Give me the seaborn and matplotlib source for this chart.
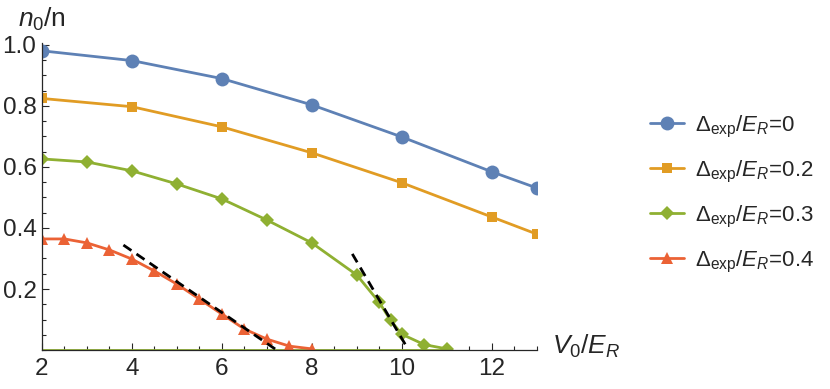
import numpy as np
import pandas as pd
import seaborn as sns
import matplotlib.pyplot as plt
from matplotlib.ticker import MultipleLocator, FixedLocator

# condensate fraction n0/n against lattice depth V0/ER
v_blue = [2, 4, 6, 8, 10, 12, 13]
n_blue = [0.980, 0.948, 0.889, 0.803, 0.698, 0.584, 0.531]

v_orange = [2, 4, 6, 8, 10, 12, 13]
n_orange = [0.824, 0.797, 0.731, 0.646, 0.548, 0.436, 0.380]

v_green = [2, 3, 4, 5, 6, 7, 8, 9, 9.5, 9.75, 10, 10.5, 11]
n_green = [0.626, 0.616, 0.587, 0.544, 0.495, 0.426, 0.351, 0.246, 0.156, 0.098, 0.052, 0.018, 0.004]

v_red = [2, 2.5, 3, 3.5, 4, 4.5, 5, 5.5, 6, 6.5, 7, 7.5, 8]
n_red = [0.364, 0.364, 0.351, 0.328, 0.298, 0.259, 0.216, 0.167, 0.118, 0.069, 0.036, 0.013, 0.004]

# green curve sitting on the axis
v_floor = [2, 11]
n_floor = [0, 0]

# dashed linear fits
fit1_x = [3.81, 7.22]
fit1_y = [0.344, 0.0]
fit2_x = [8.90, 10.10]
fit2_y = [0.315, 0.013]

labels = [r'$\Delta_{\rm exp}/E_R$=0', r'$\Delta_{\rm exp}/E_R$=0.2',
          r'$\Delta_{\rm exp}/E_R$=0.3', r'$\Delta_{\rm exp}/E_R$=0.4']
colors = ['#5E81B5', '#E19C24', '#8FB032', '#EB6235']

sns.set_style('ticks')
plt.rcParams['font.family'] = ['Liberation Sans', 'DejaVu Sans']
plt.rcParams['mathtext.fontset'] = 'custom'
plt.rcParams['mathtext.rm'] = 'Liberation Sans'
plt.rcParams['mathtext.it'] = 'Liberation Sans:italic'

fig = plt.figure(figsize=(8.3, 3.89), dpi=100)
ax = fig.add_axes([0.0506, 0.100, 0.596, 0.789])

sns.lineplot(x=v_floor, y=n_floor, color=colors[2], lw=2.0, ax=ax)

series = [(v_blue, n_blue, 'o', 10), (v_orange, n_orange, 's', 7),
          (v_green, n_green, 'D', 7), (v_red, n_red, '^', 8.5)]
for (vx, ny, mk, ms), lab, c in zip(series, labels, colors):
    df = pd.DataFrame({'V0': vx, 'n0': ny})
    sns.lineplot(data=df, x='V0', y='n0', color=c, marker=mk, markersize=ms,
                 markeredgewidth=0, lw=2.0, label=lab, ax=ax)

ax.plot(fit1_x, fit1_y, ls=(0, (3.5, 2.2)), color='black', lw=2.0)
ax.plot(fit2_x, fit2_y, ls=(0, (3.5, 2.2)), color='black', lw=2.0)

ax.set_xlim(2, 13)
ax.set_ylim(0, 1.005)
ax.xaxis.set_major_locator(FixedLocator([2, 4, 6, 8, 10, 12]))
ax.xaxis.set_minor_locator(MultipleLocator(0.5))
ax.yaxis.set_major_locator(FixedLocator([0.2, 0.4, 0.6, 0.8, 1.0]))
ax.yaxis.set_minor_locator(MultipleLocator(0.05))
ax.tick_params(which='both', direction='in', labelsize=17.5, width=0.8)
ax.tick_params(which='major', length=5)
ax.tick_params(which='minor', length=3)
ax.tick_params(axis='x', pad=6)
ax.tick_params(axis='y', pad=4)
ax.set_xlabel('')
ax.set_ylabel('')
sns.despine(ax=ax)
for s in ('left', 'bottom'):
    ax.spines[s].set_linewidth(0.9)

fig.text(0.050, 0.950, r'$n_0$/n', fontsize=19, ha='center', va='center')
fig.text(0.665, 0.110, r'$V_0/E_R$', fontsize=19, ha='left', va='center')

ax.legend(loc='center left', bbox_to_anchor=(0.783, 0.501),
          bbox_transform=fig.transFigure, frameon=False, borderpad=0,
          borderaxespad=0, fontsize=16, handlelength=1.55, labelspacing=0.85,
          handletextpad=0.5)

fig.savefig('out.png', dpi=100)
